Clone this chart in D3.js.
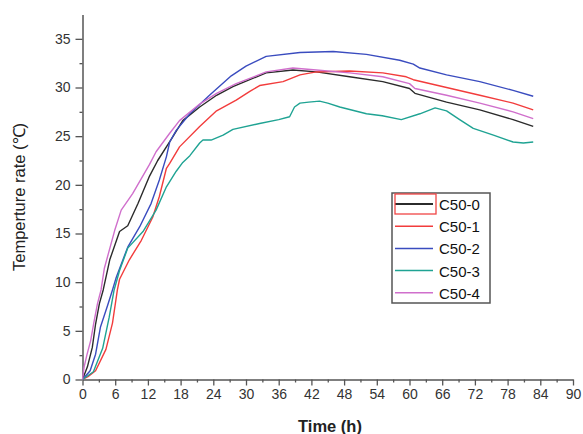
<!DOCTYPE html>
<html>
<head>
<meta charset="utf-8">
<script src="https://cdn.jsdelivr.net/npm/d3@7"></script>
<style>
  body { margin: 0; background: #fff; }
  svg { display: block; font-family: "Liberation Sans", Arial, sans-serif; }
</style>
</head>
<body>
<div id="chart"></div>
<script>
// series names shown in the legend
const seriesNames = ["C50-0", "C50-1", "C50-2", "C50-3", "C50-4"];
const seriesColors = ["#2b2b2b", "#f23c3c", "#3a4cbf", "#1fa393", "#d06fcc"];

// time (h) and temperature values
const c500Time = [0, 0.9, 1.8, 2.4, 3.1, 3.8, 5.0, 6.8, 8.3, 10.2, 12.3, 13.8, 16.3, 18.4, 21.5, 24.6, 27.6, 33.7, 38.6, 42.9, 49, 55.1, 60, 61, 66.8, 72.9, 79, 82.7];
const c500Temp = [0, 1.3, 3.3, 5.7, 7.8, 9.2, 12.3, 15.2, 15.8, 18.1, 20.9, 22.5, 24.7, 26.6, 28.0, 29.2, 30.1, 31.5, 31.8, 31.6, 31.1, 30.6, 29.9, 29.4, 28.5, 27.7, 26.7, 26.0];

const c501Time = [0, 1.0, 2.4, 4.3, 5.5, 6.4, 6.8, 8.6, 10.8, 12.9, 14.1, 15.4, 16.0, 17.8, 21.5, 24.6, 28.2, 30.7, 32.5, 36.8, 39.9, 42.9, 49, 55.1, 59.4, 60.7, 66.8, 72.9, 79, 82.7];
const c501Temp = [0, 0.3, 0.9, 3.1, 5.8, 9.2, 10.3, 12.3, 14.3, 16.7, 18.8, 21.7, 22.2, 23.9, 26.0, 27.6, 28.7, 29.6, 30.2, 30.6, 31.3, 31.6, 31.7, 31.5, 31.1, 30.8, 30.0, 29.2, 28.4, 27.7];

const c502Time = [0, 1.4, 2.4, 3.3, 4.6, 5.5, 6.2, 8.3, 10.5, 12.6, 14.1, 15.4, 16.0, 17.2, 19.7, 23.3, 27.3, 30, 33.7, 39.9, 46, 52.1, 58.2, 60.7, 61.9, 66.8, 72.9, 79, 82.7];
const c502Temp = [0, 0.9, 2.6, 5.4, 7.6, 9.2, 10.5, 13.6, 15.7, 18.1, 20.5, 22.9, 24.4, 25.6, 27.3, 29.2, 31.2, 32.2, 33.2, 33.6, 33.7, 33.4, 32.8, 32.4, 32.0, 31.3, 30.6, 29.7, 29.1];

const c503Time = [0, 2.0, 3.7, 4.9, 5.8, 6.8, 8.3, 11.1, 13.5, 15.4, 17.2, 18.4, 19.7, 21.5, 22.1, 23.6, 25.8, 27.6, 32.5, 36, 38, 38.9, 39.9, 41.5, 43.5, 45, 47.2, 52.1, 55, 58.5, 61.9, 64.7, 66.8, 69.2, 71.7, 75.4, 79, 80.9, 82.7];
const c503Temp = [0, 0.8, 3.2, 6.4, 9.2, 11.2, 13.5, 15.2, 17.4, 19.8, 21.4, 22.3, 23.0, 24.3, 24.6, 24.6, 25.1, 25.7, 26.3, 26.7, 27.0, 28.0, 28.4, 28.5, 28.6, 28.4, 28.0, 27.3, 27.1, 26.7, 27.3, 27.9, 27.6, 26.7, 25.8, 25.1, 24.4, 24.3, 24.4];

const c504Time = [0, 0.3, 0.8, 1.5, 2.1, 2.75, 3.4, 4.0, 5.9, 7.1, 9.2, 12.3, 13.5, 16.0, 17.8, 21.5, 24.6, 28.2, 33.7, 38.6, 42.9, 49, 55.1, 60, 61, 66.8, 72.9, 79, 82.7];
const c504Temp = [0, 1.3, 2.5, 4.0, 5.9, 7.8, 9.2, 11.4, 15.3, 17.4, 19.1, 22.1, 23.4, 25.3, 26.6, 28.3, 29.4, 30.4, 31.6, 32.0, 31.8, 31.5, 31.1, 30.4, 29.9, 29.2, 28.4, 27.5, 26.8];

const seriesTimes = [c500Time, c501Time, c502Time, c503Time, c504Time];
const seriesTemps = [c500Temp, c501Temp, c502Temp, c503Temp, c504Temp];

// tick values
const xMajorTicks = d3.range(0, 91, 6);
const xMinorTicks = d3.range(3, 91, 6);
const yMajorTicks = [0, 5, 10, 15, 20, 25, 30, 35];
const yMinorTicks = [2.5, 7.5, 12.5, 17.5, 22.5, 27.5, 32.5];

const width = 583, height = 434;
const margin = { left: 82.5, right: 10, top: 14.5, bottom: 55 };

const svg = d3.select("#chart")
    .append("svg")
    .attr("width", width)
    .attr("height", height);

const x = d3.scaleLinear().domain([0, 90]).range([margin.left, 573]);
const y = d3.scaleLinear().domain([0, 37.5]).range([379.5, margin.top]);

const axisColor = "#555";
const textColor = "#333";

// x axis: minor ticks first, then labelled majors
svg.append("g")
    .attr("transform", `translate(0,${y(0)})`)
    .call(d3.axisBottom(x).tickValues(xMinorTicks).tickSize(3).tickFormat(""))
    .call(g => g.select(".domain").remove())
    .call(g => g.selectAll("line").attr("stroke", axisColor).attr("stroke-width", 1.3));

svg.append("g")
    .attr("transform", `translate(0,${y(0)})`)
    .call(d3.axisBottom(x).tickValues(xMajorTicks).tickSize(6).tickSizeOuter(0).tickPadding(4))
    .call(g => g.select(".domain").attr("stroke", axisColor).attr("stroke-width", 1.5))
    .call(g => g.selectAll("line").attr("stroke", axisColor).attr("stroke-width", 1.3))
    .call(g => g.selectAll("text").attr("fill", textColor).attr("font-size", 14));

// y axis
svg.append("g")
    .attr("transform", `translate(${x(0)},0)`)
    .call(d3.axisLeft(y).tickValues(yMinorTicks).tickSize(3).tickFormat(""))
    .call(g => g.select(".domain").remove())
    .call(g => g.selectAll("line").attr("stroke", axisColor).attr("stroke-width", 1.3));

svg.append("g")
    .attr("transform", `translate(${x(0)},0)`)
    .call(d3.axisLeft(y).tickValues(yMajorTicks).tickSize(7).tickSizeOuter(0).tickPadding(5))
    .call(g => g.select(".domain").attr("stroke", axisColor).attr("stroke-width", 1.5))
    .call(g => g.selectAll("line").attr("stroke", axisColor).attr("stroke-width", 1.3))
    .call(g => g.selectAll("text").attr("fill", textColor).attr("font-size", 14));

// axis titles
svg.append("text")
    .attr("x", 330)
    .attr("y", 432)
    .attr("text-anchor", "middle")
    .attr("font-size", 16.5)
    .attr("font-weight", "bold")
    .attr("fill", "#222")
    .text("Time (h)");

svg.append("text")
    .attr("transform", "translate(25,197) rotate(-90)")
    .attr("text-anchor", "middle")
    .attr("font-size", 16.5)
    .attr("fill", "#222")
    .text("Temperture rate (℃)");

// curves
const line = d3.line()
    .x(d => x(d[0]))
    .y(d => y(d[1]));

seriesNames.forEach((name, i) => {
    const pts = seriesTimes[i].map((t, j) => [t, seriesTemps[i][j]]);
    svg.append("path")
        .datum(pts)
        .attr("fill", "none")
        .attr("stroke", seriesColors[i])
        .attr("stroke-width", 1.4)
        .attr("stroke-linejoin", "round")
        .attr("d", line);
});

// legend
const legend = svg.append("g").attr("transform", "translate(392,193)");
legend.append("rect")
    .attr("width", 98)
    .attr("height", 110)
    .attr("fill", "#fff")
    .attr("stroke", axisColor)
    .attr("stroke-width", 1.5);

seriesNames.forEach((name, i) => {
    const ly = 11 + i * 22.2;
    legend.append("line")
        .attr("x1", 3).attr("x2", 41)
        .attr("y1", ly).attr("y2", ly)
        .attr("stroke", seriesColors[i])
        .attr("stroke-width", i === 0 ? 2 : 1.5);
    legend.append("text")
        .attr("x", 47)
        .attr("y", ly + 6)
        .attr("font-size", 15)
        .attr("fill", "#111")
        .text(name);
});

// selection frame around the first legend sample
legend.append("rect")
    .attr("x", 3).attr("y", 1)
    .attr("width", 41).attr("height", 20)
    .attr("fill", "none")
    .attr("stroke", "#f04646")
    .attr("stroke-width", 1.3);
</script>
</body>
</html>
